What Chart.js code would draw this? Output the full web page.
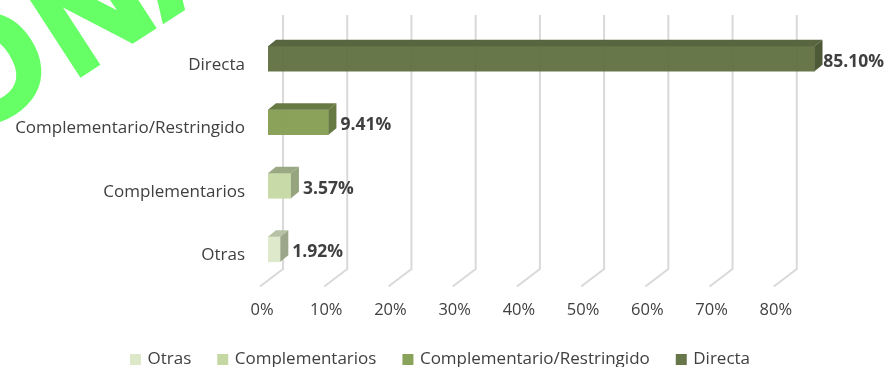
<!DOCTYPE html>
<html lang="es">
<head>
  <meta charset="UTF-8">
  <title>Gráfico</title>
  <script src="https://cdn.jsdelivr.net/npm/chart.js"></script>
  <style>
    * { margin: 0; padding: 0; box-sizing: border-box; }
    html, body { width: 885px; height: 367px; background: #fff; overflow: hidden; }
    #wrap { position: relative; width: 885px; height: 367px; overflow: hidden; }
    #mark {
      position: absolute;
      left: -48px;
      top: -70px;
      font: 900 146px 'Liberation Sans', sans-serif;
      color: #66ff66;
      -webkit-text-stroke: 5px #66ff66;
      transform: rotate(-33deg);
      transform-origin: 50% 50%;
      white-space: nowrap;
      line-height: 1;
    }
    #mark .o { letter-spacing: -30px; position: relative; left: -40px; top: -6px; }
    canvas { position: absolute; left: 0; top: 0; }
  </style>
</head>
<body>
  <div id="wrap">
    <div id="mark"><span class="o">O</span>NA</div>
    <canvas id="chart" width="885" height="367"></canvas>
  </div>

  <script>
    const categories = ['Directa', 'Complementario/Restringido', 'Complementarios', 'Otras'];
    const shares = [85.10, 9.41, 3.57, 1.92];
    const tickValues = [0, 10, 20, 30, 40, 50, 60, 70, 80];
    const frontColors = ['rgba(94,110,63,0.94)', 'rgba(134,158,84,0.96)', 'rgba(197,216,164,0.96)', 'rgba(221,232,201,0.96)'];
    const topColors = ['#586640', '#687a44', '#9aa883', '#b6c2a3'];
    const sideColors = ['#4e5a37', '#687a44', '#95a37e', '#9ba68a'];
    const legendColors = ['#67774a', '#8aa35a', '#c5d8a4', '#dde8c9'];

    const fontName = "'Open Sans', sans-serif";
    const textColor = '#404040';
    const depthX = 8, depthY = 6.5;

    // legend sits right of the canvas centre in the original
    const legendShift = {
      id: 'legendShift',
      afterLayout(chart) {
        chart.legend.left += 18;
        chart.legend.right += 18;
      }
    };

    // back wall and floor lines, behind the bars
    const wallGrid = {
      id: 'wallGrid',
      beforeDatasetsDraw(chart) {
        const { ctx, chartArea, scales } = chart;
        ctx.save();
        ctx.strokeStyle = '#d9d9d9';
        ctx.lineWidth = 2;
        tickValues.forEach(v => {
          const x = scales.x.getPixelForValue(v);
          ctx.beginPath();
          ctx.moveTo(x + 15, chartArea.top - 12);
          ctx.lineTo(x + 15, chartArea.bottom - 12);
          ctx.lineTo(x - 8, chartArea.bottom + 5.5);
          ctx.stroke();
        });
        ctx.restore();
      }
    };

    // top and side faces of the boxes, then the value labels
    const boxFaces = {
      id: 'boxFaces',
      afterDatasetsDraw(chart) {
        const { ctx } = chart;
        const bars = chart.getDatasetMeta(0).data;
        ctx.save();
        bars.forEach((bar, i) => {
          const left = bar.base, right = bar.x;
          const top = bar.y - bar.height / 2, bottom = bar.y + bar.height / 2;

          ctx.fillStyle = topColors[i];
          ctx.beginPath();
          ctx.moveTo(left, top);
          ctx.lineTo(left + depthX, top - depthY);
          ctx.lineTo(right + depthX, top - depthY);
          ctx.lineTo(right, top);
          ctx.closePath();
          ctx.fill();

          ctx.fillStyle = sideColors[i];
          ctx.beginPath();
          ctx.moveTo(right, top);
          ctx.lineTo(right + depthX, top - depthY);
          ctx.lineTo(right + depthX, bottom - depthY);
          ctx.lineTo(right, bottom);
          ctx.closePath();
          ctx.fill();

          ctx.font = 'bold 17.5px ' + fontName;
          ctx.fillStyle = textColor;
          ctx.textBaseline = 'middle';
          const text = shares[i].toFixed(2) + '%';
          const tx = Math.min(right + depthX + 4, chart.width - ctx.measureText(text).width - 1);
          ctx.fillText(text, tx, bar.y + 3);
        });
        ctx.restore();
      }
    };

    new Chart(document.getElementById('chart'), {
      type: 'bar',
      data: {
        labels: categories,
        datasets: [{
          data: shares,
          backgroundColor: frontColors,
          borderWidth: 0,
          barThickness: 25
        }]
      },
      options: {
        indexAxis: 'y',
        responsive: false,
        animation: false,
        layout: { autoPadding: false, padding: { top: 27, right: 39, left: 0, bottom: -11 } },
        scales: {
          x: {
            min: 0,
            max: 90,
            grid: { display: false },
            border: { display: false },
            afterBuildTicks(scale) {
              scale.ticks = tickValues.map(v => ({ value: v }));
            },
            afterFit(scale) { scale.height = 42; },
            ticks: {
              autoSkip: false,
              maxRotation: 0,
              labelOffset: -6,
              padding: 11,
              color: textColor,
              font: { family: fontName, size: 16.5 },
              callback: v => v + '%'
            }
          },
          y: {
            grid: { display: false },
            border: { display: false },
            afterFit(scale) { scale.width = 268; },
            ticks: {
              padding: 15,
              labelOffset: 6,
              color: textColor,
              font: { family: fontName, size: 17 }
            }
          }
        },
        plugins: {
          tooltip: { enabled: false },
          legend: {
            position: 'bottom',
            labels: {
              usePointStyle: true,
              pointStyle: 'rect',
              boxWidth: 7,
              boxHeight: 11,
              padding: 28,
              color: textColor,
              font: { family: fontName, size: 17 },
              generateLabels() {
                return categories.map((name, i) => ({
                  text: name,
                  fillStyle: legendColors[i],
                  strokeStyle: legendColors[i],
                  fontColor: textColor,
                  pointStyle: 'rect',
                  lineWidth: 0,
                  index: i
                })).reverse();
              }
            }
          }
        }
      },
      plugins: [legendShift, wallGrid, boxFaces]
    });
  </script>
</body>
</html>
